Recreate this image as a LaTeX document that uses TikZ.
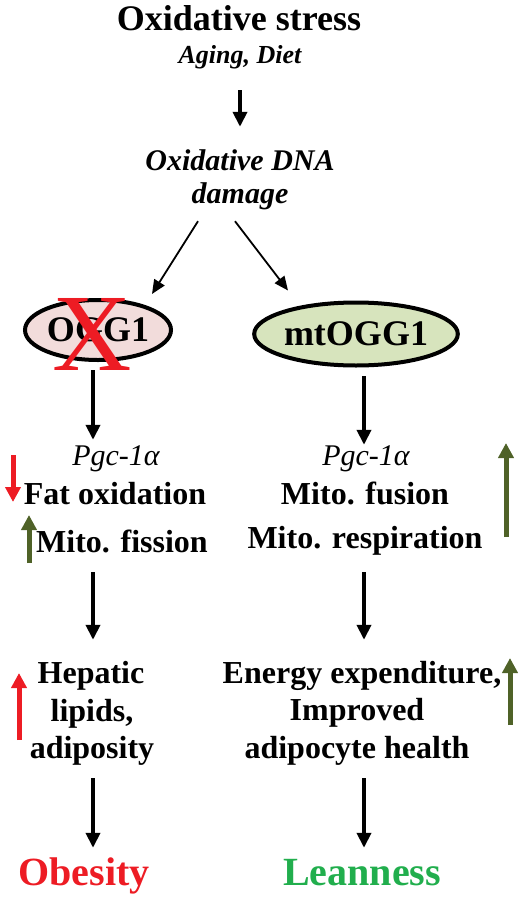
\documentclass[tikz,border=0pt]{standalone}
\usepackage{fontspec}
\setmainfont{Liberation Serif}
\usetikzlibrary{arrows.meta,shapes.geometric,calc}
\definecolor{pinkfill}{HTML}{F2DCDB}
\definecolor{greenfill}{HTML}{D7E4BD}
\definecolor{myred}{HTML}{ED1C24}
\definecolor{arrgreen}{HTML}{4F6228}
\definecolor{leangreen}{HTML}{21AE4D}
\begin{document}
\begin{tikzpicture}[x=1pt,y=-1pt,
  tb/.style={inner sep=0pt, anchor=base, text height=23pt, text depth=7pt, font=\fontsize{32}{36}\selectfont\bfseries},
  ti/.style={inner sep=0pt, anchor=base, text height=22pt, text depth=7pt, font=\fontsize{30}{34}\selectfont\itshape},
  tbi/.style={inner sep=0pt, anchor=base, text height=22pt, text depth=7pt, font=\fontsize{30}{34}\selectfont\bfseries\itshape},
  tbig/.style={inner sep=0pt, anchor=base, text height=28pt, text depth=9pt, font=\fontsize{40}{44}\selectfont\bfseries},
  ell/.style={ellipse, draw, line width=4pt, inner sep=0pt, font=\fontsize{36}{40}\selectfont\bfseries},
  arr/.style={line width=4pt, -{Triangle[width=14pt,length=15pt]}},
  darr/.style={line width=1.8pt, -{Triangle[width=12pt,length=14pt]}},
  indarr/.style={line width=5pt, -{Triangle[width=15pt,length=15pt]}},
]
\useasboundingbox (0,0) rectangle (525,900);
\coordinate (colL) at (93,0);
\coordinate (colR) at (364,0);

% top
\node[inner sep=0pt, anchor=base, text height=26pt, text depth=8pt, font=\fontsize{36}{40}\selectfont\bfseries] (stress) at (239,30) {Oxidative stress};
\node[inner sep=0pt, anchor=base, text height=19pt, text depth=6pt, font=\fontsize{26}{30}\selectfont\bfseries\itshape] (aging) at (240,63) {Aging, Diet};
\node[tbi] (dna1) at (240,170) {Oxidative DNA};
\node[tbi] (dna2) at (240,203) {damage};

% ellipses
\node[ell, fill=pinkfill, minimum width=146pt, minimum height=60pt] (ogg1) at (98,330) {OGG1};
\node[inner sep=0pt, anchor=base, text=myred, font=\fontsize{110}{110}\selectfont] (cross) at (92,370) {X};
\node[ell, fill=greenfill, minimum width=174pt, minimum height=63pt] (mtogg1) at (356,334) {mtOGG1};

% left column
\node[ti] (pgcL) at (116,465) {Pgc-1α};
\node[tb] (fatox) at (115,504) {Fat oxidation};
\node[tb] (fission) at (122,552) {Mito. fission};
\node[tb] (hepatic) at (91,683) {Hepatic};
\node[tb] (lipids) at (92,721) {lipids,};
\node[tb] (adiposity) at (92,758) {adiposity};
\node[tbig, text=myred] (obesity) at (84,885) {Obesity};

% right column
\node[ti] (pgcR) at (366,465) {Pgc-1α};
\node[tb] (fusion) at (365,504) {Mito. fusion};
\node[tb] (resp) at (365,548) {Mito. respiration};
\node[tb] (energy) at (362,683) {Energy expenditure,};
\node[tb] (improved) at (357,720) {Improved};
\node[tb] (health) at (357,758) {adipocyte health};
\node[tbig, text=leangreen] (lean) at (362,885) {Leanness};

% connectors
\draw[arr] ($(aging.south)+(0,21)$) -- ($(dna1.north)+(0,-21)$);
\draw[darr] ($(dna2.south)+(-42,11)$) -- ($(ogg1.north)+(54,-4)$);
\draw[darr] ($(dna2.south)+(-5,11)$) -- ($(mtogg1.north)+(-68,-10)$);

\draw[arr] ($(ogg1.south -| colL)+(0,8)$) -- ($(pgcL.north -| colL)+(0,-3)$);
\draw[arr] ($(fission.south -| colL)+(0,13)$) -- ($(hepatic.north -| colL)+(0,-20)$);
\draw[arr] ($(adiposity.south -| colL)+(0,13)$) -- ($(obesity.north -| colL)+(0,-9)$);

\draw[arr] ($(mtogg1.south -| colR)+(0,8.5)$) -- ($(pgcR.north -| colR)+(0,2)$);
\draw[arr] ($(resp.south -| colR)+(0,17)$) -- ($(energy.north -| colR)+(0,-20)$);
\draw[arr] ($(health.south -| colR)+(0,13)$) -- ($(lean.north -| colR)+(0,-9)$);

% change indicators
\draw[indarr, myred] (13,455) -- (13,502);
\draw[indarr, arrgreen] (29,563) -- (29,515);
\draw[indarr, arrgreen] (506,537) -- (506,443);
\draw[indarr, myred] (19,740) -- (19,673);
\draw[indarr, arrgreen] (510,725) -- (510,658);
\end{tikzpicture}
\end{document}
